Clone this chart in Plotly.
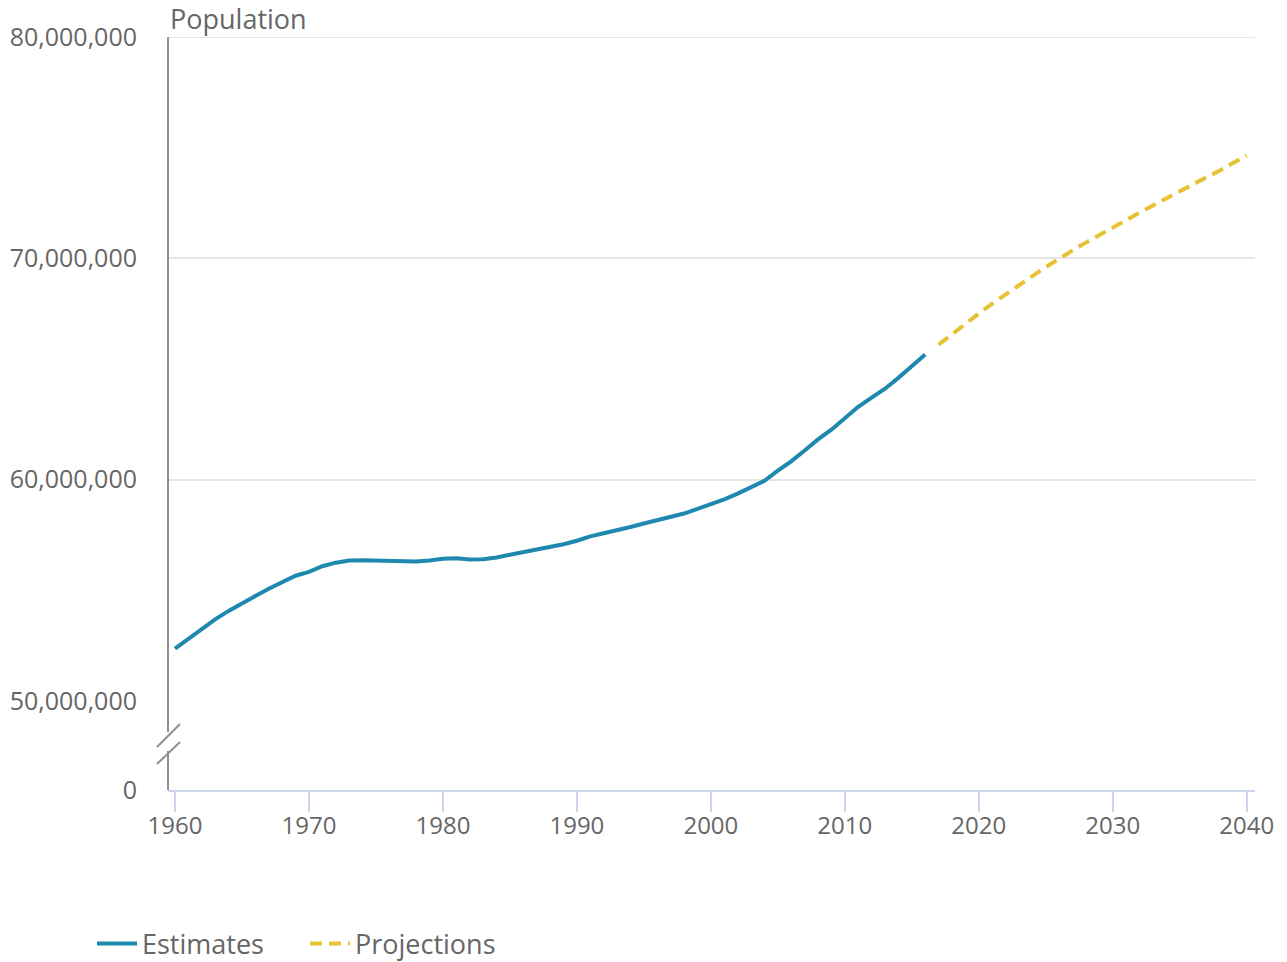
import plotly.graph_objects as go

# ---- data ----
est_years = list(range(1960, 2017))
est_values = [
    52.37, 52.81, 53.29, 53.69, 54.07, 54.43, 54.74, 55.07, 55.38, 55.66,
    55.83, 56.09, 56.25, 56.35, 56.36, 56.35, 56.33, 56.31, 56.30, 56.35,
    56.43, 56.45, 56.39, 56.40, 56.48, 56.61, 56.73, 56.84, 56.94, 57.08,
    57.24, 57.44, 57.58, 57.71, 57.86, 58.02, 58.16, 58.31, 58.47, 58.68,
    58.89, 59.11, 59.37, 59.64, 59.95, 60.41, 60.83, 61.32, 61.82, 62.26,
    62.76, 63.29, 63.71, 64.11, 64.60, 65.11, 65.65,
]
proj_years = list(range(2017, 2041))
proj_values = [
    66.10, 66.58, 67.05, 67.50, 67.95, 68.38, 68.80, 69.20, 69.60, 70.00,
    70.36, 70.71, 71.06, 71.40, 71.74, 72.06, 72.39, 72.72, 73.04, 73.35,
    73.66, 73.97, 74.31, 74.65,
]
y_ticks = [50_000_000, 60_000_000, 70_000_000, 80_000_000]
x_ticks = list(range(1960, 2041, 10))

est_pop = [v * 1e6 for v in est_values]
proj_pop = [v * 1e6 for v in proj_values]

FONT = "Open Sans"
TXT = "#666666"
BLUE = "#1f88ae"
YELLOW = "#e6c234"
AXIS_GREY = "#8f8f8f"
GRID = "#e6e6e6"

W, H = 1287, 962
L, R, T, B = 168, 32, 37, 172
PH = H - T - B  # plot height in px
PW = W - L - R


def px_x(px):
    return (px - L) / PW


def px_y(py):
    return (H - B - py) / PH


fig = go.Figure()
fig.add_trace(go.Scatter(
    x=est_years, y=est_pop, name="Estimates", mode="lines",
    line=dict(color=BLUE, width=4), yaxis="y", xaxis="x",
))
fig.add_trace(go.Scatter(
    x=proj_years, y=proj_pop, name="Projections", mode="lines",
    line=dict(color=YELLOW, width=4, dash="12px,7px"), yaxis="y", xaxis="x",
))
# invisible anchor trace for the lower (zero) axis
fig.add_trace(go.Scatter(
    x=[1960], y=[0], mode="markers", marker=dict(opacity=0),
    showlegend=False, hoverinfo="skip", yaxis="y2", xaxis="x",
))

main_bottom = px_y(701)

fig.update_layout(
    width=W, height=H,
    margin=dict(l=L, r=R, t=T, b=B, autoexpand=False),
    paper_bgcolor="white", plot_bgcolor="white",
    font=dict(family=FONT, size=24, color=TXT),
    xaxis=dict(
        range=[1959.478, 2040.62], tickvals=x_ticks,
        showgrid=False, zeroline=False,
        showline=True, linecolor="#ccd6eb", linewidth=2,
        ticks="outside", ticklen=20, tickwidth=2, tickcolor="#ccd6eb",
        tickfont=dict(size=24, color=TXT),
        ticklabelstandoff=-7,
        anchor="y2",
    ),
    yaxis=dict(
        domain=[main_bottom, 1], range=[50_000_000, 80_000_000],
        tickvals=y_ticks, tickformat=",d",
        showgrid=True, gridcolor=GRID, gridwidth=2,
        zeroline=False, showline=False, ticks="",
        ticklabelstandoff=30,
        tickfont=dict(size=25, color=TXT),
    ),
    yaxis2=dict(
        domain=[0, 0.05], range=[0, 1_000_000],
        tickvals=[0], ticktext=["0"],
        showgrid=False, zeroline=False, showline=False, ticks="",
        ticklabelstandoff=30,
        tickfont=dict(size=25, color=TXT),
    ),
    legend=dict(
        orientation="h", x=92 / W, xanchor="left", xref="container",
        y=1 - 944 / H, yanchor="middle", yref="container",
        font=dict(size=27, color=TXT), entrywidth=158, itemwidth=40,
    ),
    showlegend=True,
)

fig.add_annotation(
    text="Population", xref="paper", yref="paper", x=0, y=1,
    xanchor="left", yanchor="bottom", showarrow=False,
    font=dict(size=27, color=TXT), yshift=-2,
)

# top gridline at 80,000,000 (edge of plot area)
fig.add_shape(type="line", xref="paper", yref="y", x0=0, x1=1,
              y0=y_ticks[-1], y1=y_ticks[-1], line=dict(color=GRID, width=2),
              layer="below")

# broken vertical axis line
line_style = dict(color=AXIS_GREY, width=2)
fig.add_shape(type="line", xref="paper", yref="paper",
              x0=0, x1=0, y0=1, y1=px_y(732), line=line_style)
fig.add_shape(type="line", xref="paper", yref="paper",
              x0=0, x1=0, y0=px_y(751), y1=0, line=line_style)
fig.add_shape(type="line", xref="paper", yref="paper",
              x0=px_x(157), x1=px_x(180), y0=px_y(747), y1=px_y(724), line=line_style)
fig.add_shape(type="line", xref="paper", yref="paper",
              x0=px_x(157), x1=px_x(180), y0=px_y(764), y1=px_y(742), line=line_style)

fig.write_html("out.html", config={"displayModeBar": False},
               post_script="document.body.style.margin='0';")
